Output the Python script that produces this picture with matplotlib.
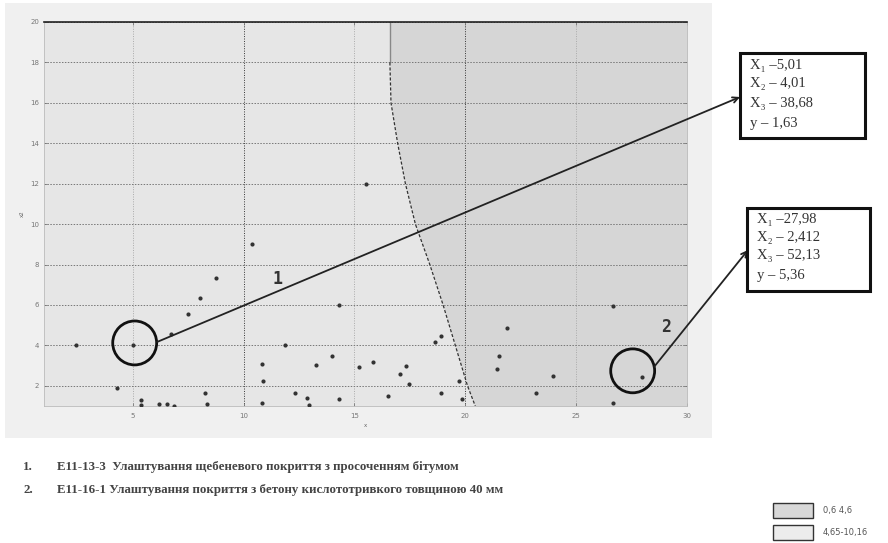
import matplotlib
matplotlib.use("Agg")
import matplotlib.pyplot as plt
from matplotlib.patches import Rectangle

# ---- data ----
pts_x = [2.43, 5.01, 4.31, 5.39, 5.39, 6.19, 6.56, 6.86, 6.75, 7.5, 8.02, 8.75, 8.25, 8.35,
         10.36, 10.81, 10.88, 10.81, 11.89, 12.31, 15.5, 13.29, 12.84, 12.96, 13.97, 14.31,
         14.31, 15.2, 15.82, 16.52, 17.06, 17.32, 17.46, 18.65, 18.91, 18.91, 19.72, 19.83,
         21.41, 21.52, 21.86, 23.17, 23.94, 26.64, 26.67, 27.98]
pts_y = [4.0, 4.01, 1.87, 1.29, 1.06, 1.12, 1.12, 1.0, 4.55, 5.54, 6.35, 7.34, 1.65, 1.12,
         9.04, 3.1, 2.26, 1.17, 4.04, 1.62, 12.0, 3.02, 1.4, 1.06, 3.47, 6.02,
         1.34, 2.94, 3.18, 1.5, 2.57, 2.97, 2.08, 4.17, 4.46, 1.62, 2.24, 1.34,
         2.82, 3.47, 4.87, 1.62, 2.48, 5.96, 1.17, 2.412]

bound_y = [20, 18, 16, 14, 12, 10, 8, 6, 4, 2, 1]
bound_x = [16.6, 16.6, 16.65, 16.95, 17.3, 17.75, 18.4, 19.0, 19.55, 20.1, 20.45]

x_ticks = [5, 10, 15, 20, 25, 30]
y_ticks = [2, 4, 6, 8, 10, 12, 14, 16, 18, 20]

sel_x = [5.01, 27.98]
sel_y = [4.01, 2.412]
sel_labels = ["1", "2"]
box1_lines = ["X\u2081 \u20135,01", "X\u2082 \u2013 4,01", "X\u2083 \u2013 38,68", "y \u2013 1,63"]
box2_lines = ["X\u2081 \u201327,98", "X\u2082 \u2013 2,412", "X\u2083 \u2013 52,13", "y \u2013 5,36"]

notes = ["E11-13-3  Улаштування щебеневого покриття з просоченням бітумом",
         "E11-16-1 Улаштування покриття з бетону кислототривкого товщиною 40 мм"]
legend_labels = ["0,6 4,6", "4,65-10,16"]
legend_colors = ["#d8d8d8", "#ececec"]

W, H = 888, 543
fig = plt.figure(figsize=(W / 100, H / 100), dpi=100)
fig.patch.set_facecolor("white")

def fx(px):
    return px / W

def fy(py):
    return 1 - py / H

# gray panel behind the plot
fig.patches.append(Rectangle((fx(5), fy(438)), fx(712) - fx(5), fy(3) - fy(438),
                             transform=fig.transFigure, facecolor="#f0f0f0",
                             edgecolor="none", zorder=-10))

ax = fig.add_axes([fx(44), fy(406), fx(687) - fx(44), fy(22) - fy(406)])
ax.set_zorder(1)
ax.set_facecolor("#e6e6e6")
ax.set_xlim(1, 30)
ax.set_ylim(1, 20)

ax.fill_betweenx(bound_y, bound_x, 30, color="#d6d6d6", zorder=0.5, lw=0)
ax.plot(bound_x[:2], bound_y[:2], color="#888888", lw=1.0, zorder=1)
ax.plot(bound_x[1:], bound_y[1:], color="#333333", lw=0.9, ls=(0, (2.5, 1.5)), zorder=1)

for xv in x_ticks:
    c = "#333333" if xv in (10, 20) else "#aaaaaa"
    ax.axvline(xv, color=c, lw=0.7, ls=(0, (1, 1.5)), zorder=0.8)
for yv in y_ticks:
    ax.axhline(yv, color="#777777", lw=0.7, ls=(0, (1.5, 1.5)), zorder=0.8)

ax.scatter(pts_x, pts_y, s=9, color="#333333", zorder=3, linewidths=0)
ax.scatter([5.09, 27.55], [4.12, 2.74], s=1000, facecolors="none",
           edgecolors="#111111", linewidths=2, zorder=4)

ax.set_xticks(x_ticks)
ax.set_yticks(y_ticks)
ax.tick_params(labelsize=5, colors="#777777", length=2, width=0.6, direction="in",
               right=True, top=True)
ax.tick_params(axis="x", pad=5)
for s in ["left", "bottom", "right"]:
    ax.spines[s].set_color("#bbbbbb")
    ax.spines[s].set_linewidth(0.6)
ax.spines["top"].set_color("#222222")
ax.spines["top"].set_linewidth(1.2)
ax.set_xlabel("x", fontsize=4, color="#666666", labelpad=3)
ax.set_ylabel("x2", fontsize=4, color="#666666", labelpad=4)

# arrows to boxes
ax.annotate("", xy=(fx(740), fy(97)), xycoords="figure fraction",
            xytext=(fx(157), fy(342)), textcoords="figure fraction",
            arrowprops=dict(arrowstyle="->", color="#222222", lw=1.3,
                            shrinkA=0, shrinkB=0), annotation_clip=False, zorder=5)
ax.annotate("", xy=(fx(748), fy(250)), xycoords="figure fraction",
            xytext=(fx(654), fy(367)), textcoords="figure fraction",
            arrowprops=dict(arrowstyle="->", color="#222222", lw=1.3,
                            shrinkA=0, shrinkB=0), annotation_clip=False, zorder=5)

fig.text(fx(277), fy(279), sel_labels[0], fontsize=12, fontweight="bold",
         family="DejaVu Sans Mono", color="#333333", ha="center", va="center", zorder=6)
fig.text(fx(666), fy(327), sel_labels[1], fontsize=12, fontweight="bold",
         family="DejaVu Sans Mono", color="#333333", ha="center", va="center", zorder=6)

# boxes
serif = ["Liberation Serif", "DejaVu Serif"]
for (x0, y0, x1, y1), lines, ys in [((740, 53, 865, 138), box1_lines, [65, 84, 103, 123]),
                                      ((747, 208, 870, 291), box2_lines, [219, 237, 256, 275])]:
    fig.patches.append(Rectangle((fx(x0), fy(y1)), fx(x1) - fx(x0), fy(y0) - fy(y1),
                                 transform=fig.transFigure, facecolor="white",
                                 edgecolor="#111111", lw=2.2, zorder=5))
    for t, yy in zip(lines, ys):
        fig.text(fx(x0 + 10), fy(yy), t, fontsize=10.5, family=serif, color="#333333",
                 ha="left", va="center", zorder=6)

# bottom notes
for i, (t, yy) in enumerate(zip(notes, [467, 490])):
    fig.text(fx(23), fy(yy), f"{i + 1}.", fontsize=9.3, fontweight="bold", family=serif,
             color="#444444", ha="left", va="center")
    fig.text(fx(57), fy(yy), t, fontsize=9.3, fontweight="bold", family=serif,
             color="#444444", ha="left", va="center")

# legend
for lab, col, yy in zip(legend_labels, legend_colors, [510, 532]):
    fig.patches.append(Rectangle((fx(773), fy(yy + 8)), fx(813) - fx(773), fy(yy - 7) - fy(yy + 8),
                                 transform=fig.transFigure, facecolor=col,
                                 edgecolor="#333333", lw=1.0))
    fig.text(fx(823), fy(yy), lab, fontsize=6, family="DejaVu Sans", color="#555555",
             ha="left", va="center")

fig.savefig("out.png", dpi=100)
